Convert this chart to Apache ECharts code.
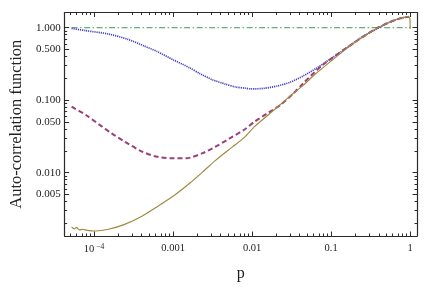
<!DOCTYPE html>
<html>
<head>
<meta charset="utf-8">
<script src="https://cdn.jsdelivr.net/npm/echarts@6/dist/echarts.min.js"></script>
<style>html,body{margin:0;padding:0;background:#fff}#c{width:436px;height:288px}</style>
</head>
<body>
<div id="c"></div>
<script>
// ---- data (p, auto-correlation) ----
const pBlue = [5.2e-5, 7.9e-5, 1.52e-4, 2.69e-4, 4.31e-4, 6.28e-4, 1.01e-3, 1.62e-3, 2.15e-3, 3.13e-3, 4.57e-3, 6.2e-3, 8.05e-3, 9.75e-3, 0.0142, 0.0207, 0.0303, 0.0442, 0.0646, 0.1035, 0.166, 0.242, 0.389, 0.568, 0.753, 0.91, 0.97];
const acfBlue = [0.98, 0.91, 0.82, 0.69, 0.56, 0.47, 0.36, 0.28, 0.235, 0.192, 0.167, 0.152, 0.147, 0.143, 0.146, 0.157, 0.177, 0.216, 0.275, 0.386, 0.547, 0.738, 0.98, 1.21, 1.35, 1.40, 1.42];

const pPurple = [5.2e-5, 7.9e-5, 1.15e-4, 1.67e-4, 2.44e-4, 3.92e-4, 5.71e-4, 9.16e-4, 1.47e-3, 2.36e-3, 3.78e-3, 5.52e-3, 8.05e-3, 0.0107, 0.0156, 0.0228, 0.0333, 0.0442, 0.078, 0.166, 0.267, 0.389, 0.568, 0.753, 0.91, 0.97];
const acfPurple = [0.0813, 0.0625, 0.0465, 0.0349, 0.0268, 0.0199, 0.017, 0.0158, 0.0158, 0.0186, 0.0242, 0.031, 0.0395, 0.0505, 0.0659, 0.0859, 0.124, 0.171, 0.306, 0.55, 0.78, 1.0, 1.21, 1.35, 1.40, 1.42];

const pGold = [5.2e-5, 5.6e-5, 6.0e-5, 6.5e-5, 7.16e-5, 8.2e-5, 1.04e-4, 1.52e-4, 2.44e-4, 3.92e-4, 6.28e-4, 1.01e-3, 1.62e-3, 2.36e-3, 3.44e-3, 5.02e-3, 6.07e-3, 8.05e-3, 0.0107, 0.0189, 0.0333, 0.0442, 0.0646, 0.1035, 0.166, 0.267, 0.389, 0.568, 0.753, 0.955, 0.99, 1.0];
const acfGold = [0.00178, 0.00168, 0.00176, 0.00163, 0.00166, 0.0016, 0.00157, 0.00166, 0.00194, 0.00247, 0.0034, 0.00477, 0.00714, 0.0102, 0.0148, 0.0206, 0.0241, 0.031, 0.0433, 0.0733, 0.125, 0.16, 0.235, 0.358, 0.547, 0.776, 1.0, 1.21, 1.35, 1.42, 1.34, 0.97];

const pGreen = [5.2e-5, 1.0];
const acfGreen = [1.0, 1.0];

const xMajorTicks = [1e-4, 0.001, 0.01, 0.1, 1];
const xTickLabels = ['10{sup|\u22124}', '0.001', '0.01', '0.1', '1'];
const yMajorTicks = [0.005, 0.01, 0.05, 0.1, 0.5, 1];
const yTickLabels = ['0.005', '0.010', '0.050', '0.100', '0.500', '1.000'];

// ---- helpers ----
const L = Math.log10;
const toPts = (xs, ys) => xs.map((x, i) => [L(x), L(ys[i])]);
const xMin = -4.372, xMax = 0.086, yMin = -2.873, yMax = 0.21;

function minorTicks(majors, lo, hi) {
  const out = [];
  for (let d = -6; d <= 1; d++) {
    for (let k = 1; k <= 9; k++) {
      const v = L(k * Math.pow(10, d));
      if (v > lo && v < hi && !majors.some(m => Math.abs(L(m) - v) < 1e-9)) out.push(v);
    }
  }
  return out;
}
const xMinor = minorTicks(xMajorTicks, xMin, xMax);
const yMinor = minorTicks(yMajorTicks, yMin, yMax);
const xMajLog = xMajorTicks.map(L);
const yMajLog = yMajorTicks.map(L);

const frameColor = '#2a2a2a';
const serif = '"Liberation Serif", "DejaVu Serif", serif';

function mkX(pos, ticks, len, labels, line) {
  return {
    type: 'value', gridIndex: 0, position: pos, min: xMin, max: xMax,
    splitLine: { show: false },
    axisLine: { show: line, onZero: false, lineStyle: { color: frameColor, width: 1.2 } },
    axisTick: { show: true, inside: true, length: len, customValues: ticks, lineStyle: { color: frameColor, width: 1 } },
    axisLabel: labels ? {
      show: true, customValues: xMajLog, margin: 7, color: '#222', fontFamily: serif, fontSize: 10.5,
      formatter: v => { const i = xMajLog.findIndex(m => Math.abs(m - v) < 1e-6); return i >= 0 ? xTickLabels[i] : ''; },
      rich: { sup: { fontSize: 7.5, verticalAlign: 'top', padding: [0, 0, 5, 2], fontFamily: serif, color: '#222' } }
    } : { show: false }
  };
}
function mkY(pos, ticks, len, labels, line) {
  return {
    type: 'value', gridIndex: 0, position: pos, min: yMin, max: yMax,
    splitLine: { show: false },
    axisLine: { show: line, onZero: false, lineStyle: { color: frameColor, width: 1.2 } },
    axisTick: { show: true, inside: true, length: len, customValues: ticks, lineStyle: { color: frameColor, width: 1 } },
    axisLabel: labels ? {
      show: true, customValues: yMajLog, margin: 4, color: '#222', fontFamily: serif, fontSize: 11,
      formatter: v => { const i = yMajLog.findIndex(m => Math.abs(m - v) < 1e-6); return i >= 0 ? yTickLabels[i] : ''; }
    } : { show: false }
  };
}

const xAxes = [
  Object.assign(mkX('bottom', xMajLog, 4.5, true, true), { name: 'p', nameLocation: 'middle', nameGap: 30, nameTextStyle: { fontFamily: serif, fontSize: 16, color: '#222' } }),
  mkX('bottom', xMinor, 2.5, false, false),
  mkX('top', xMajLog, 4.5, false, true),
  mkX('top', xMinor, 2.5, false, false)
];
const yAxes = [
  Object.assign(mkY('left', yMajLog, 4.5, true, true), { name: 'Auto-correlation function', nameLocation: 'middle', nameGap: 38, nameTextStyle: { fontFamily: serif, fontSize: 16.5, color: '#222' } }),
  mkY('left', yMinor, 2.5, false, false),
  mkY('right', yMajLog, 4.5, false, true),
  mkY('right', yMinor, 2.5, false, false)
];

const chart = echarts.init(document.getElementById('c'), null, { renderer: 'canvas' });
chart.setOption({
  animation: false,
  backgroundColor: '#fff',
  grid: { left: 55, right: 19, top: 12.5, bottom: 52, containLabel: false },
  xAxis: xAxes,
  yAxis: yAxes,
  series: [
    { type: 'line', name: 'green', data: toPts(pGreen, acfGreen), showSymbol: false,
      lineStyle: { color: '#3f9a55', width: 1, type: [6, 2.5, 1.5, 2.5] } },
    { type: 'line', name: 'blue', data: toPts(pBlue, acfBlue), showSymbol: false, smooth: 0.25,
      lineStyle: { color: '#4646bc', width: 1.7, type: [1.2, 0.9] } },
    { type: 'line', name: 'purple', data: toPts(pPurple, acfPurple), showSymbol: false, smooth: 0.25,
      lineStyle: { color: '#9c3f78', width: 2, type: [5, 3] } },
    { type: 'line', name: 'gold', data: toPts(pGold, acfGold), showSymbol: false, smooth: 0.15,
      lineStyle: { color: '#a08a40', width: 1.2 } }
  ]
});
</script>
</body>
</html>
